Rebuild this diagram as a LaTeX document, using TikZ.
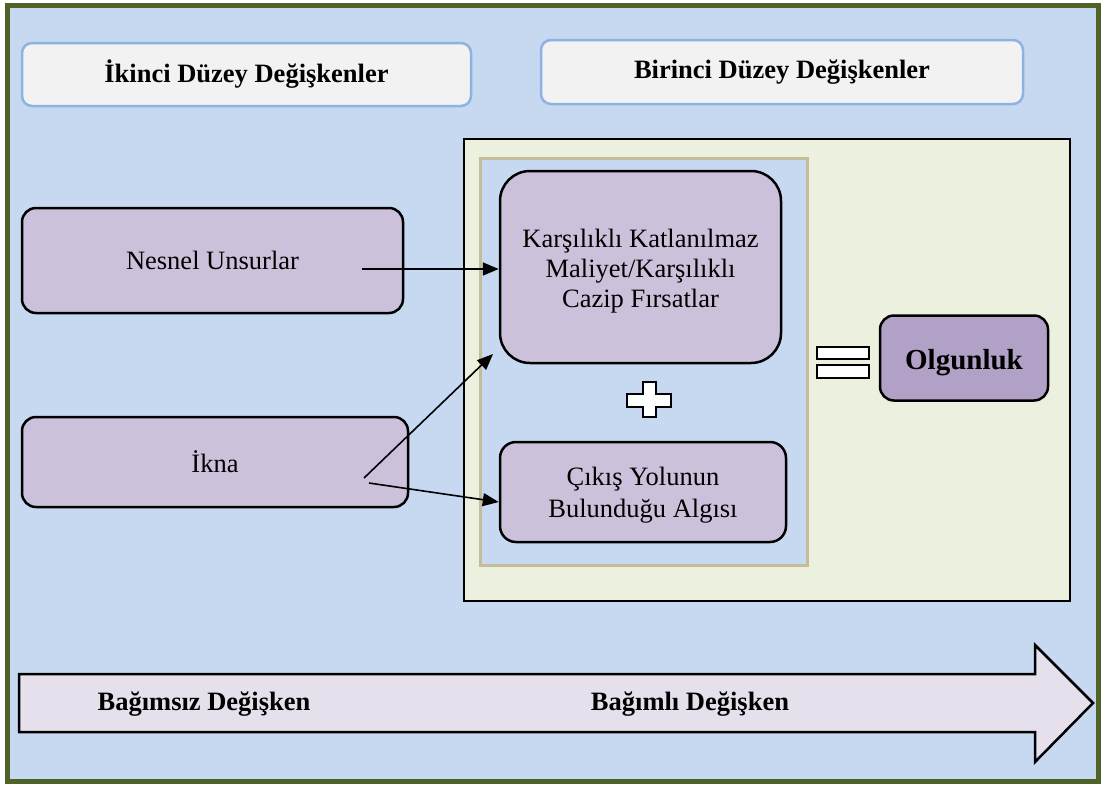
\documentclass[tikz,border=0pt]{standalone}
\usepackage{fontspec}
\setmainfont{Liberation Serif}
\usetikzlibrary{arrows.meta}
\definecolor{frame}{RGB}{79,98,40}
\definecolor{bgblue}{RGB}{198,217,241}
\definecolor{hdrfill}{RGB}{242,242,242}
\definecolor{hdrline}{RGB}{141,179,226}
\definecolor{panel}{RGB}{235,241,222}
\definecolor{tanline}{RGB}{196,189,151}
\definecolor{lilac}{RGB}{204,193,218}
\definecolor{plum}{RGB}{178,161,199}
\definecolor{bandfill}{RGB}{230,224,236}

\begin{document}
\begin{tikzpicture}[x=1pt,y=-1pt,
                header/.style={draw=hdrline, line width=2.5pt, fill=hdrfill, rounded corners=10pt, font=\fontsize{26.5}{30}\selectfont\bfseries},
                factor/.style={draw, line width=2.5pt, fill=lilac, rounded corners=14pt, align=center, font=\fontsize{26.5}{30}\selectfont},
                link/.style={-{Triangle[length=16pt,width=13pt]}, line width=1.6pt},
                sign/.style={draw, line width=2pt, fill=white}]
                \useasboundingbox (0,0) rectangle (1105,785);
                \draw[frame, line width=5pt, fill=bgblue] (7,5) rectangle (1098,781);
                \node[header, minimum width=449pt, minimum height=63pt] (ikinci) at (246.5,74.5) {İkinci Düzey Değişkenler};
                \node[header, minimum width=482pt, minimum height=64pt] (birinci) at (782,72) {Birinci Düzey Değişkenler};
                \draw[line width=2pt, fill=panel] (464,139) rectangle (1070,601);
                \draw[tanline, line width=3pt, fill=bgblue] (480,158) rectangle (807,565);
                \node[factor, minimum width=381pt, minimum height=105pt] (nesnel) at (212.5,260.5) {Nesnel Unsurlar};
                \node[factor, minimum width=386pt, minimum height=90pt] (ikna) at (215,462) {İkna};
                \node[factor, rounded corners=30pt, minimum width=281pt, minimum height=192pt, text height=80pt, text depth=0pt] (kars) at (640.5,267) {Karşılıklı Katlanılmaz\\Maliyet/Karşılıklı\\Cazip Fırsatlar};
                \node[factor, rounded corners=16pt, minimum width=286pt, minimum height=100pt, text height=50pt, text depth=0pt] (cikis) at (643,492) {Çıkış Yolunun\\[2pt]Bulunduğu Algısı};
                \node[factor, fill=plum, minimum width=168pt, minimum height=85pt, text height=22pt, text depth=0pt, font=\fontsize{29}{32}\selectfont\bfseries] (olgun) at (964,358) {Olgunluk};
                \draw[sign] (642.5,382) -- (655.5,382) -- (655.5,393.5) -- (671,393.5) -- (671,406.5) -- (655.5,406.5) -- (655.5,417) -- (642.5,417) -- (642.5,406.5) -- (627,406.5) -- (627,393.5) -- (642.5,393.5) -- cycle;
                \draw[sign] (817,347) rectangle (869,359);
                \draw[sign] (817,365) rectangle (869,378);
                \coordinate (nesnel-out) at (362,269);
                \coordinate (ikna-up) at (364,478);
                \coordinate (ikna-down) at (369,483);
                \coordinate (kars-corner) at (493,354);
                \draw[link] (nesnel-out) -- (kars.west |- nesnel-out);
                \draw[link] (ikna-up) -- (kars-corner);
                \draw[link] (ikna-down) -- ([yshift=-10pt]cikis.west);
                \draw[line width=2.5pt, fill=bandfill] (19,674) -- (1035,674) -- (1035,645) -- (1093,703) -- (1035,762) -- (1035,732) -- (19,732) -- cycle;
                \node[font=\fontsize{26.5}{30}\selectfont\bfseries] (bagimsiz) at (204,704) {Bağımsız Değişken};
                \node[font=\fontsize{26.5}{30}\selectfont\bfseries] (bagimli) at (690,704) {Bağımlı Değişken};
            \end{tikzpicture}
\end{document}
